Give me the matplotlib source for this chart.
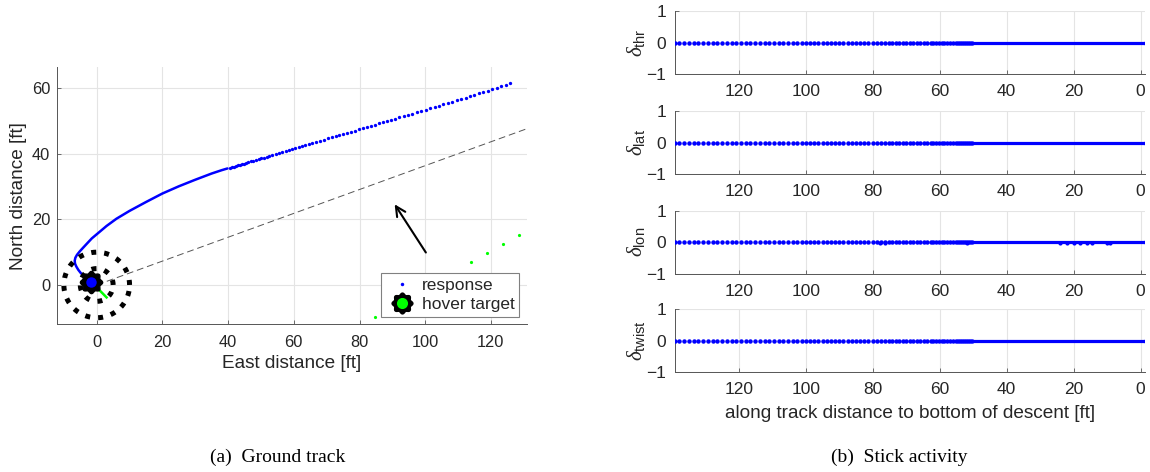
import numpy as np
import matplotlib
matplotlib.use('Agg')
import matplotlib.pyplot as plt
from matplotlib.path import Path
from matplotlib.lines import Line2D
from matplotlib.legend_handler import HandlerTuple
from matplotlib.patches import FancyArrowPatch

plt.rcParams['font.family'] = ['Liberation Sans', 'DejaVu Sans']
plt.rcParams['mathtext.fontset'] = 'custom'
plt.rcParams['mathtext.rm'] = 'Liberation Sans'
plt.rcParams['mathtext.it'] = 'Liberation Serif:italic'
plt.rcParams['mathtext.bf'] = 'Liberation Sans:bold'

# ---------------- data ----------------
# ground-track response, far part (discrete samples), east / north [ft]
east_far = [125.8, 124.45, 123.1, 121.75, 120.4, 119.05, 117.7, 116.35, 115.0, 113.65,
            112.3, 110.95, 109.6, 108.25, 106.9, 105.55, 104.2, 102.85, 101.5, 100.15,
            98.8, 97.45, 96.1, 94.75, 93.4, 92.05, 90.7,
            89.5, 88.3, 87.1, 85.9, 84.7, 83.5, 82.3, 81.1, 79.9, 78.7,
            77.5, 76.3, 75.1, 73.9, 72.7, 71.5, 70.3, 69.1, 67.9, 66.7, 65.5,
            64.5, 63.5, 62.5, 61.5, 60.5, 59.5, 58.5, 57.5, 56.5, 55.5, 54.5, 53.5, 52.5,
            51.7, 50.9, 50.1, 49.3, 48.5, 47.7, 46.9, 46.1, 45.3,
            44.7, 44.1, 43.5, 42.9, 42.3, 41.7, 41.1, 40.5]
north_far = [61.50, 61.06, 60.62, 60.17, 59.73, 59.30, 58.86, 58.43, 58.00, 57.57,
             57.14, 56.70, 56.28, 55.88, 55.47, 55.07, 54.66, 54.26, 53.85, 53.45,
             53.05, 52.66, 52.27, 51.88, 51.49, 51.09, 50.70,
             50.35, 49.99, 49.63, 49.27, 48.91, 48.55, 48.19, 47.83, 47.47, 47.12,
             46.78, 46.43, 46.08, 45.73, 45.38, 45.04, 44.69, 44.32, 43.95, 43.58, 43.21,
             42.90, 42.59, 42.28, 41.97, 41.66, 41.36, 41.07, 40.78, 40.49, 40.20, 39.91, 39.62, 39.33,
             39.09, 38.86, 38.63, 38.39, 38.15, 37.91, 37.67, 37.43, 37.19,
             37.01, 36.83, 36.65, 36.47, 36.29, 36.11, 35.93, 35.75]
# ground-track response, near part (dense samples, seen as a line)
east_near = [39.8, 38.0, 35.0, 30.0, 25.0, 20.0, 15.0, 10.0, 6.0, 3.0, 0.4, -1.5,
             -2.9, -4.2, -5.2, -6.0, -6.5, -6.7, -6.6, -6.2, -5.6, -4.9, -4.0,
             -3.0, -2.2, -1.7]
north_near = [35.54, 35.0, 34.0, 32.1, 30.1, 27.9, 25.3, 22.6, 20.2, 18.0, 15.8,
              14.2, 12.7, 11.3, 10.2, 9.2, 8.3, 7.4, 6.5, 5.6, 4.6, 3.7, 2.8,
              1.9, 1.2, 0.8]

hover_target = (-1.7, 1.0)
green_seg_east = [-1.7, 3.0]
green_seg_north = [1.0, -3.8]
green_pts_east = [84.8, 113.9, 118.8, 123.7, 128.6]
green_pts_north = [-9.7, 6.9, 9.6, 12.4, 15.1]
ring_radii = [5, 10]
heading_deg = 20.0
arrow_tail = (100.2, 9.9)
arrow_head = (90.7, 24.6)

# stick activity: all traces sit on zero, small dips in delta_lon
stick_names = ['thr', 'lat', 'lon', 'twist']
lon_dip_dist = [78.0, 76.5, 52.0, 24.0, 22.0, 20.0, 18.0, 16.0, 14.5, 10.0, 9.0]
lon_dip_val = [-0.02, -0.02, -0.02, -0.02, -0.025, -0.03, -0.03, -0.025, -0.02, -0.02, -0.02]

# ---------------- figure ----------------
W, H = 1150, 472
fig = plt.figure(figsize=(W / 100, H / 100), dpi=100)
TXT = '#262626'
GRID = '#e4e4e4'
SPINE = '#555555'


def style_axes(ax, tick_size, xpad, ypad):
    for s in ['top', 'right']:
        ax.spines[s].set_visible(False)
    for s in ['left', 'bottom']:
        ax.spines[s].set_color(SPINE)
        ax.spines[s].set_linewidth(0.7)
    ax.tick_params(direction='in', length=3, width=0.6, color=SPINE,
                   labelcolor=TXT, labelsize=tick_size)
    ax.tick_params(axis='x', pad=xpad)
    ax.tick_params(axis='y', pad=ypad)
    ax.grid(True, color=GRID, lw=0.8)
    ax.set_axisbelow(True)


def px_axes(left, top, right, bottom):
    return fig.add_axes([left / W, 1 - bottom / H, (right - left) / W, (bottom - top) / H])


# ----- (a) ground track -----
ax = px_axes(57.3, 67.3, 526.7, 324.3)
style_axes(ax, 11.8, 8, 5)
ax.set_xlim(-12, 130.9)
ax.set_ylim(-12, 66.4)
ax.set_xticks([0, 20, 40, 60, 80, 100, 120])
ax.set_yticks([0, 20, 40, 60])

th = np.deg2rad(heading_deg)
guide_e = np.array([0.0, 140.0])
ax.plot(guide_e, guide_e * np.tan(th), color='#555555', lw=0.7,
        dashes=(7, 4), zorder=2)

ax.plot(east_near, north_near, '-', color='b', lw=1.8, solid_capstyle='round', zorder=3)
ax.plot(east_far, north_far, 'o', color='b', ms=2.4, mec='none', zorder=3)

# target rings (dotted)
t = np.linspace(0, 2 * np.pi, 400)
for r in ring_radii:
    ax.plot(r * np.cos(t), r * np.sin(t), color='k', lw=3.6,
            linestyle=(0, (1.0, 1.6)), dash_capstyle='butt', zorder=4)

ax.plot(green_seg_east, green_seg_north, color='#00ff00', lw=1.8, zorder=4)
ax.plot(green_pts_east, green_pts_north, 'o', color='#00ff00', ms=2.3, mec='none', zorder=4)

# flower-shaped marker for hover target
ang = np.linspace(0, 2 * np.pi, 145)
rad = 1 + 0.1 * np.cos(8 * ang)
flower = Path(np.column_stack([rad * np.cos(ang), rad * np.sin(ang)]), closed=True)
ax.plot([hover_target[0]], [hover_target[1]], marker=flower, ms=16, color='k', ls='none', zorder=5)
ax.plot([east_near[-1]], [north_near[-1]], 'o', color='b', ms=7.5, mec='none', zorder=6)

arr = FancyArrowPatch(arrow_tail, arrow_head, arrowstyle='->,head_length=7,head_width=3.5',
                      color='k', lw=1.5, mutation_scale=1, shrinkA=0, shrinkB=0, zorder=5)
ax.add_patch(arr)

ax.set_xlabel('East distance [ft]', fontsize=13.7, color=TXT, va='center')
ax.set_ylabel('North distance [ft]', fontsize=13.7, color=TXT, va='center')
ax.xaxis.set_label_coords(0.5, -(364 - 324.3) / 257)
ax.yaxis.set_label_coords(-(57.3 - 18.3) / 469.4, 0.5)

h_resp = Line2D([], [], marker='o', color='b', ms=2.5, mec='none', ls='none')
h_fl = Line2D([], [], marker=flower, color='k', ms=15, ls='none')
h_gr = Line2D([], [], marker='o', color='#00ff00', ms=8, mec='none', ls='none')
leg = ax.legend([h_resp, (h_fl, h_gr)], ['response', 'hover target'],
                handler_map={tuple: HandlerTuple(ndivide=1)},
                loc='lower right', bbox_to_anchor=((518.7 - 57.3) / 469.4, (324.3 - 316.7) / 257),
                fontsize=12.5, frameon=True, fancybox=False, framealpha=1,
                edgecolor='#808080', borderpad=0.25, labelspacing=0.25,
                handlelength=1.9, handletextpad=0.2, borderaxespad=0, numpoints=1)
leg.get_frame().set_linewidth(0.8)
for txt in leg.get_texts():
    txt.set_color(TXT)

# ----- (b) stick activity -----
along_far = np.array(east_far) * np.cos(th) + np.array(north_far) * np.sin(th)
along_near = np.array(east_near) * np.cos(th) + np.array(north_near) * np.sin(th)
xl = (along_far[0], along_near[-1])

tops = [11.0, 111.0, 210.7, 309.0]
for i, name in enumerate(stick_names):
    a = px_axes(674.7, tops[i], 1145.0, tops[i] + 63.3)
    style_axes(a, 12.5, 7, 6)
    a.set_xlim(*xl)
    a.set_ylim(-1, 1)
    a.set_xticks([120, 100, 80, 60, 40, 20, 0])
    a.set_yticks([-1, 0, 1])
    a.plot(along_near, np.zeros(len(along_near)), '-', color='b', lw=2.3, zorder=3)
    a.plot(along_far, np.zeros(len(along_far)), 'o', color='b', ms=3.2, mec='none', zorder=3)
    if name == 'lon':
        a.plot(lon_dip_dist, lon_dip_val, 'o', color='b', ms=3.0, mec='none', zorder=3)
    a.set_ylabel(r'$\delta_{\mathrm{%s}}$' % name, fontsize=15, color=TXT, va='center')
    a.yaxis.set_label_coords(-(674.7 - 635.8) / 470.3, 0.5)
    if i == 3:
        a.set_xlabel('along track distance to bottom of descent [ft]', fontsize=13.7,
                     color=TXT, va='center')
        a.xaxis.set_label_coords(0.5, -(413 - 372.3) / 63.3)

# captions
fig.text(278 / W, 1 - 457 / H, '(a)  Ground track', family='Liberation Serif',
         fontsize=14, ha='center', va='center', color='k')
fig.text(899 / W, 1 - 457 / H, '(b)  Stick activity', family='Liberation Serif',
         fontsize=14, ha='center', va='center', color='k')

fig.savefig('out.png', dpi=100)
